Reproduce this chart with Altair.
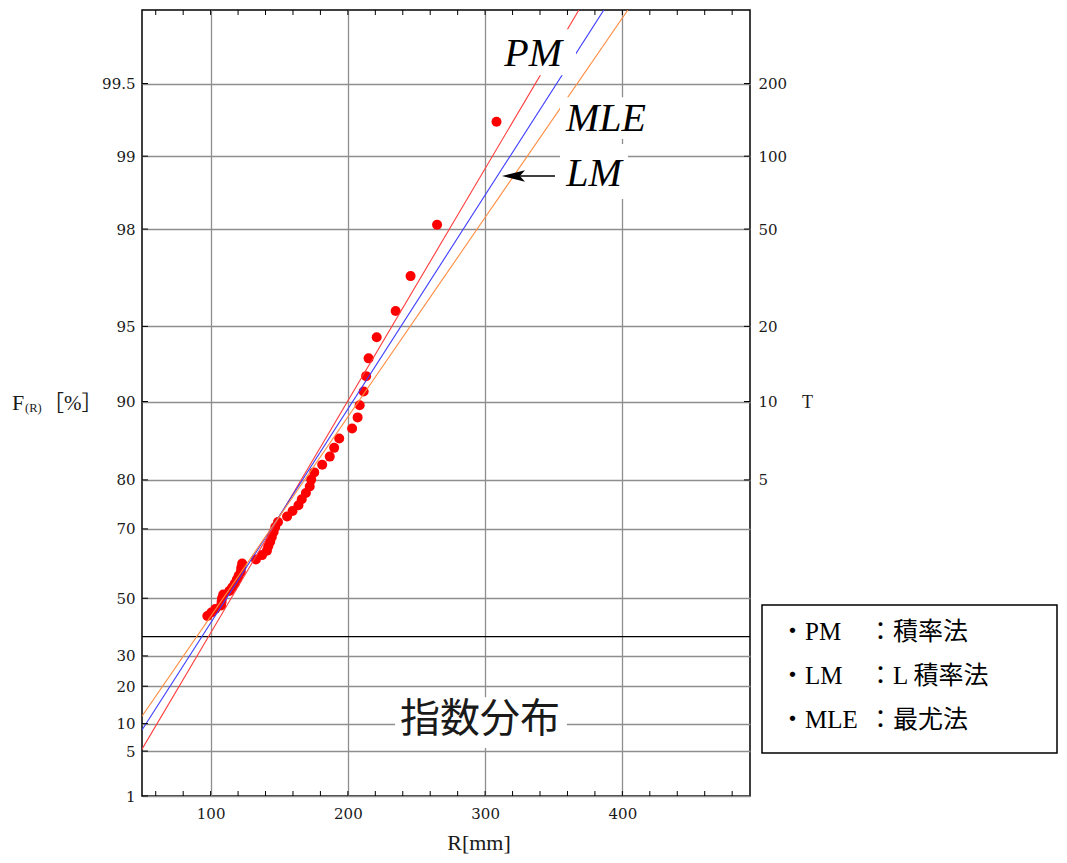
import math
import altair as alt
import pandas as pd

# ---------------- data ----------------
R_mm = [308.3, 265.0, 245.7, 234.8, 221.0, 215.1, 213.3, 211.5, 208.6, 207.1,
        203.1, 193.7, 190.0, 186.8, 181.3, 175.5, 173.3, 172.2, 169.4, 166.4,
        164.0, 159.7, 155.7, 149.1, 147.1, 145.9, 144.6, 143.4, 142.0, 141.0,
        137.5, 133.0, 123.0, 122.3, 122.0, 120.4, 119.1, 117.6, 115.8, 113.6,
        109.2, 108.3, 108.0, 107.6, 103.4, 100.5, 97.6]
F_pct = [99.28, 98.08, 96.88, 95.67, 94.47, 93.27, 92.07, 90.87, 89.66, 88.46,
         87.26, 86.06, 84.86, 83.65, 82.45, 81.25, 80.05, 78.85, 77.64, 76.44,
         75.24, 74.04, 72.84, 71.63, 70.43, 69.23, 68.03, 66.83, 65.63, 64.42,
         63.22, 62.02, 60.82, 59.62, 58.41, 57.21, 56.01, 54.81, 53.61, 52.40,
         51.20, 50.00, 48.80, 47.60, 46.39, 45.19, 43.99]

methods = ["PM", "LM", "MLE"]
method_colors = ["#ff3c3c", "#3c3cff", "#ff8c42"]
loc_u = [98.5, 93.7, 89.9]          # fitted location (mm)
scale_a = [44.97, 48.80, 52.35]     # fitted scale (mm)

F_ticks = [1, 5, 10, 20, 30, 50, 70, 80, 90, 95, 98, 99, 99.5]
T_ticks = [5, 10, 20, 50, 100, 200]
R_ticks = [100, 200, 300, 400]
R_minor = list(range(60, 481, 20))

legend_abbr = ["・PM", "・LM", "・MLE"]
legend_desc = ["：積率法", "：L 積率法", "：最尤法"]
panel_title = "指数分布"


def gumbel(p):
    return -math.log(-math.log(p))


# ---------------- layout ----------------
W, H = 608, 786
X_DOM = [50, 493]
Y_DOM = [gumbel(0.01), 6.0]
xs = alt.Scale(domain=X_DOM, nice=False, zero=False)
ys = alt.Scale(domain=Y_DOM, nice=False, zero=False)

GRID = "#8e8e8e"
TICKFONT = "DejaVu Serif"
SERIF = "Liberation Serif"
CJK = "Noto Sans CJK JP"

ax_bottom = alt.Axis(values=R_ticks, grid=True, gridColor=GRID, gridWidth=1.3,
                     ticks=False, domain=False, labelFont=TICKFONT, labelFontSize=15,
                     labelColor="#1a1a1a", labelPadding=10, title=None)
ax_left = alt.Axis(values=[gumbel(f / 100) for f in F_ticks], grid=True, gridColor=GRID,
                   gridWidth=1.3, ticks=False, domain=False, labelFont=TICKFONT,
                   labelFontSize=15, labelColor="#1a1a1a", labelPadding=7, title=None,
                   labelExpr="format(100*exp(-exp(-datum.value)), '.3~r')")
ax_right = alt.Axis(orient="right", values=[gumbel(1 - 1 / t) for t in T_ticks],
                    grid=False, ticks=False, domain=False, labelFont=TICKFONT,
                    labelFontSize=15, labelColor="#1a1a1a", labelPadding=8, title=None,
                    labelExpr="format(1/(1-exp(-exp(-datum.value))), '.3~r')")

one = pd.DataFrame({"k": [0]})

# points
pts = alt.Chart(pd.DataFrame({"R": R_mm, "F": F_pct})).transform_calculate(
    yv="-log(-log(datum.F/100))"
).mark_circle(color="#ff0000", size=100, opacity=1).encode(
    x=alt.X("R:Q", scale=xs, axis=ax_bottom),
    y=alt.Y("yv:Q", scale=ys, axis=ax_left),
)

# fitted lines
rows = []
for m, u, a in zip(methods, loc_u, scale_a):
    for r in X_DOM:
        rows.append({"method": m, "R": r, "yv": (r - u) / a})
fits = alt.Chart(pd.DataFrame(rows)).mark_line(clip=True, strokeWidth=1.1).encode(
    x=alt.X("R:Q", scale=xs, axis=None),
    y=alt.Y("yv:Q", scale=ys, axis=None),
    color=alt.Color("method:N", scale=alt.Scale(domain=methods, range=method_colors), legend=None),
    detail="method:N",
)

# y = 0 axis line
zero_line = alt.Chart(pd.DataFrame({"yv": [0.0]})).mark_rule(color="black", strokeWidth=1.2).encode(
    y=alt.Y("yv:Q", scale=ys, axis=None))

# white masks behind annotations
masks = alt.Chart(pd.DataFrame({
    "x1": [308.7, 354.6, 354.6, 234.4],
    "x2": [366.2, 423.0, 404.1, 359.6],
    "y1": [5.375, 4.764, 4.190, -1.068],
    "y2": [5.815, 5.165, 4.716, -0.581],
})).mark_rect(color="white").encode(
    x=alt.X("x1:Q", scale=xs, axis=None), x2="x2:Q",
    y=alt.Y("y1:Q", scale=ys, axis=None), y2="y2:Q")

labels = alt.Chart(pd.DataFrame({
    "t": methods, "R": [335.0, 379.3, 388.1], "yv": [5.462, 4.314, 4.840]
})).mark_text(font=SERIF, fontStyle="italic", fontSize=40, align="center",
              baseline="alphabetic", color="black").encode(
    x=alt.X("R:Q", scale=xs, axis=None), y=alt.Y("yv:Q", scale=ys, axis=None), text="t:N")

ptitle = alt.Chart(pd.DataFrame({"t": [panel_title], "R": [296.3], "yv": [-0.80]})).mark_text(
    font=CJK, fontSize=40, align="center", baseline="middle", color="#1a1a1a").encode(
    x=alt.X("R:Q", scale=xs, axis=None), y=alt.Y("yv:Q", scale=ys, axis=None), text="t:N")

shaft = alt.Chart(pd.DataFrame({"x1": [322.0], "x2": [350.9], "yv": [4.410]})).mark_rule(
    color="black", strokeWidth=1.4).encode(
    x=alt.X("x1:Q", scale=xs, axis=None), x2="x2:Q", y=alt.Y("yv:Q", scale=ys, axis=None))
head = alt.Chart(pd.DataFrame({"R": [320.7], "yv": [4.410]})).mark_point(
    shape="M -1 0 L 1 -0.5 L 0.55 0 L 1 0.5 Z", filled=True, color="black", size=529, opacity=1
).encode(x=alt.X("R:Q", scale=xs, axis=None), y=alt.Y("yv:Q", scale=ys, axis=None))

# frame ticks (inward)
tick_bottom = alt.Chart(pd.DataFrame({"t": R_minor})).mark_rule(color="black", strokeWidth=1).encode(
    x=alt.X("t:Q", scale=xs, axis=None), y=alt.value(H), y2=alt.value(H - 5))
tick_top = alt.Chart(pd.DataFrame({"t": R_minor})).mark_rule(color="black", strokeWidth=1).encode(
    x=alt.X("t:Q", scale=xs, axis=None), y=alt.value(0), y2=alt.value(5))
tick_left = alt.Chart(pd.DataFrame({"yv": [gumbel(f / 100) for f in F_ticks]})).mark_rule(
    color="black", strokeWidth=1).encode(
    y=alt.Y("yv:Q", scale=ys, axis=None), x=alt.value(0), x2=alt.value(6))
tick_right = alt.Chart(pd.DataFrame({"yv": [gumbel(1 - 1 / t) for t in T_ticks]})).mark_rule(
    color="black", strokeWidth=1).encode(
    y=alt.Y("yv:Q", scale=ys, axis=ax_right), x=alt.value(W - 6), x2=alt.value(W))

# axis titles
t_F = alt.Chart(one).mark_text(font=SERIF, fontSize=22, align="left", baseline="alphabetic",
                               color="#1a1a1a").encode(x=alt.value(-130), y=alt.value(400), text=alt.value("F"))
t_R = alt.Chart(one).mark_text(font=SERIF, fontSize=12.5, align="left", baseline="alphabetic",
                               color="#1a1a1a").encode(x=alt.value(-117), y=alt.value(402), text=alt.value("(R)"))
t_pct = alt.Chart(one).mark_text(font=SERIF + ", " + CJK, fontSize=21, align="left", baseline="alphabetic",
                                 color="#1a1a1a").encode(x=alt.value(-99), y=alt.value(400), text=alt.value("［%］"))
t_T = alt.Chart(one).mark_text(font=SERIF, fontSize=18, align="left", baseline="alphabetic",
                               color="#1a1a1a").encode(x=alt.value(660), y=alt.value(398), text=alt.value("T"))
t_x = alt.Chart(one).mark_text(font=SERIF, fontSize=22, align="center", baseline="alphabetic",
                               color="#1a1a1a").encode(x=alt.value(337), y=alt.value(840), text=alt.value("R[mm]"))

# legend box
lbox = alt.Chart(one).mark_rect(fill="white", stroke="black", strokeWidth=1.5).encode(
    x=alt.value(620), x2=alt.value(915), y=alt.value(595), y2=alt.value(743))
leg_layers = []
for i, (a, d) in enumerate(zip(legend_abbr, legend_desc)):
    leg_layers.append(alt.Chart(one).mark_text(font=SERIF + ", " + CJK, fontSize=25, align="left",
                                               baseline="middle", color="black").encode(
        x=alt.value(638), y=alt.value(622 + 44 * i), text=alt.value(a)))
    leg_layers.append(alt.Chart(one).mark_text(font=SERIF + ", " + CJK, fontSize=25, align="left",
                                               baseline="middle", color="black").encode(
        x=alt.value(726), y=alt.value(622 + 44 * i), text=alt.value(d)))

chart = alt.layer(
    pts, zero_line, fits, masks, labels, ptitle, shaft, head,
    tick_bottom, tick_top, tick_left, tick_right,
    t_F, t_R, t_pct, t_T, t_x, lbox, *leg_layers,
).resolve_scale(x="shared", y="shared").resolve_axis(x="independent", y="independent").properties(
    width=W, height=H,
    autosize=alt.AutoSizeParams(type="none"),
    padding={"left": 134, "top": 2, "right": 308, "bottom": 59},
    background="white",
).configure_view(stroke="black", strokeWidth=1.5)

chart.save("out.html", embed_options={"renderer": "svg", "actions": False})
